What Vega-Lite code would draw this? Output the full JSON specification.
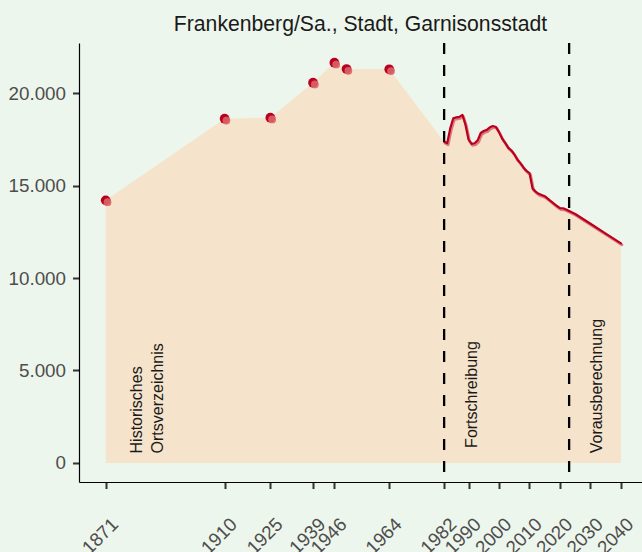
{
  "$schema": "https://vega.github.io/schema/vega-lite/v6.json",
  "width": 563,
  "height": 439,
  "autosize": {"type": "none"},
  "padding": {"left": 79, "top": 43, "right": 0, "bottom": 70},
  "background": "#EDF6EC",
  "config": {
    "view": {"stroke": null},
    "font": "Liberation Sans",
    "axis": {
      "grid": false,
      "domainColor": "#000000",
      "domainWidth": 1.2,
      "tickColor": "#333333",
      "tickWidth": 2,
      "tickSize": 6.5,
      "labelColor": "#4D4D4D",
      "labelFontSize": 18.8,
      "labelFont": "Liberation Sans",
      "title": null
    }
  },
  "title": {
    "text": "Frankenberg/Sa., Stadt, Garnisonsstadt",
    "fontSize": 21.2,
    "fontWeight": "normal",
    "font": "Liberation Sans",
    "color": "#1A1A1A",
    "anchor": "middle",
    "baseline": "alphabetic",
    "offset": 15,
    "dy": 25
  },
  "datasets": {
    "pop": [
      {"year": 1871, "pop": 14206, "type": "hist"},
      {"year": 1910, "pop": 18625, "type": "hist"},
      {"year": 1925, "pop": 18680, "type": "hist"},
      {"year": 1939, "pop": 20574, "type": "hist"},
      {"year": 1946, "pop": 21656, "type": "hist"},
      {"year": 1950, "pop": 21315, "type": "hist"},
      {"year": 1964, "pop": 21298, "type": "hist"},
      {"year": 1982, "pop": 17380, "type": "fort"},
      {"year": 1983, "pop": 17300, "type": "fort"},
      {"year": 1984, "pop": 18100, "type": "fort"},
      {"year": 1985, "pop": 18650, "type": "fort"},
      {"year": 1986, "pop": 18700, "type": "fort"},
      {"year": 1987, "pop": 18720, "type": "fort"},
      {"year": 1988, "pop": 18830, "type": "fort"},
      {"year": 1989, "pop": 18300, "type": "fort"},
      {"year": 1990, "pop": 17500, "type": "fort"},
      {"year": 1991, "pop": 17260, "type": "fort"},
      {"year": 1992, "pop": 17300, "type": "fort"},
      {"year": 1993, "pop": 17450, "type": "fort"},
      {"year": 1994, "pop": 17850, "type": "fort"},
      {"year": 1995, "pop": 17960, "type": "fort"},
      {"year": 1996, "pop": 18020, "type": "fort"},
      {"year": 1997, "pop": 18160, "type": "fort"},
      {"year": 1998, "pop": 18230, "type": "fort"},
      {"year": 1999, "pop": 18180, "type": "fort"},
      {"year": 2000, "pop": 17900, "type": "fort"},
      {"year": 2001, "pop": 17560, "type": "fort"},
      {"year": 2002, "pop": 17320, "type": "fort"},
      {"year": 2003, "pop": 17060, "type": "fort"},
      {"year": 2004, "pop": 16920, "type": "fort"},
      {"year": 2005, "pop": 16700, "type": "fort"},
      {"year": 2006, "pop": 16420, "type": "fort"},
      {"year": 2007, "pop": 16220, "type": "fort"},
      {"year": 2008, "pop": 15990, "type": "fort"},
      {"year": 2009, "pop": 15800, "type": "fort"},
      {"year": 2010, "pop": 15680, "type": "fort"},
      {"year": 2011, "pop": 14850, "type": "fort"},
      {"year": 2012, "pop": 14680, "type": "fort"},
      {"year": 2013, "pop": 14560, "type": "fort"},
      {"year": 2014, "pop": 14500, "type": "fort"},
      {"year": 2015, "pop": 14430, "type": "fort"},
      {"year": 2016, "pop": 14300, "type": "fort"},
      {"year": 2017, "pop": 14160, "type": "fort"},
      {"year": 2018, "pop": 14030, "type": "fort"},
      {"year": 2019, "pop": 13900, "type": "fort"},
      {"year": 2020, "pop": 13790, "type": "fort"},
      {"year": 2021, "pop": 13780, "type": "fort"},
      {"year": 2022, "pop": 13710, "type": "fort"},
      {"year": 2025, "pop": 13470, "type": "proj"},
      {"year": 2030, "pop": 12940, "type": "proj"},
      {"year": 2035, "pop": 12410, "type": "proj"},
      {"year": 2040, "pop": 11880, "type": "proj"}
    ],
    "breaks": [{"year": 1982}, {"year": 2023}],
    "labels": [
      {"year": 1883, "pop": 510, "label": "Historisches\nOrtsverzeichnis"},
      {"year": 1992.9, "pop": 812, "label": "Fortschreibung"},
      {"year": 2033.7, "pop": 519, "label": "Vorausberechnung"}
    ]
  },
  "encoding": {
    "x": {
      "field": "year",
      "type": "quantitative",
      "scale": {"domain": [1862.24, 2046.9], "nice": false, "zero": false},
      "axis": {
        "values": [1871, 1910, 1925, 1939, 1946, 1964, 1982, 1990, 2000, 2010, 2020, 2030, 2040],
        "format": "d",
        "labelAngle": -45,
        "labelAlign": "right",
        "labelBaseline": "top",
        "labelPadding": 26,
        "labelOffset": 2.5,
        "labelOverlap": false,
        "labelBound": false
      }
    },
    "y": {
      "field": "pop",
      "type": "quantitative",
      "scale": {"domain": [-1034, 22722], "nice": false, "zero": false},
      "axis": {
        "values": [0, 5000, 10000, 15000, 20000],
        "labelExpr": "replace(format(datum.value, ','), ',', '.')",
        "labelPadding": 7
      }
    }
  },
  "layer": [
    {
      "data": {"name": "pop"},
      "mark": {"type": "area", "color": "#F5E3CB", "opacity": 1},
      "encoding": {"y2": {"datum": 0}}
    },
    {
      "data": {"name": "pop"},
      "transform": [{"filter": "datum.type != 'hist'"}],
      "mark": {"type": "line", "color": "#DE7A7C", "strokeWidth": 2.8, "xOffset": 1, "yOffset": 1.5, "strokeJoin": "round", "strokeCap": "round"}
    },
    {
      "data": {"name": "pop"},
      "transform": [{"filter": "datum.type != 'hist'"}],
      "mark": {"type": "line", "color": "#BA0020", "strokeWidth": 2.2, "strokeJoin": "round", "strokeCap": "round"}
    },
    {
      "data": {"name": "pop"},
      "transform": [{"filter": "datum.type == 'hist'"}],
      "mark": {"type": "circle", "color": "#BA0020", "size": 95, "opacity": 1}
    },
    {
      "data": {"name": "pop"},
      "transform": [{"filter": "datum.type == 'hist'"}],
      "mark": {"type": "circle", "color": "#DB6468", "size": 60, "opacity": 0.9, "xOffset": 1.8, "yOffset": 1.8}
    },
    {
      "data": {"name": "breaks"},
      "mark": {"type": "rule", "color": "#000000", "strokeWidth": 2.3, "strokeDash": [11, 11]},
      "encoding": {"y": null}
    },
    {
      "data": {"name": "labels"},
      "mark": {
        "type": "text",
        "angle": 270,
        "align": "left",
        "baseline": "alphabetic",
        "lineBreak": "\n",
        "lineHeight": 20.5,
        "fontSize": 16,
        "font": "Liberation Sans",
        "color": "#1A1A1A"
      },
      "encoding": {"text": {"field": "label"}}
    }
  ]
}
